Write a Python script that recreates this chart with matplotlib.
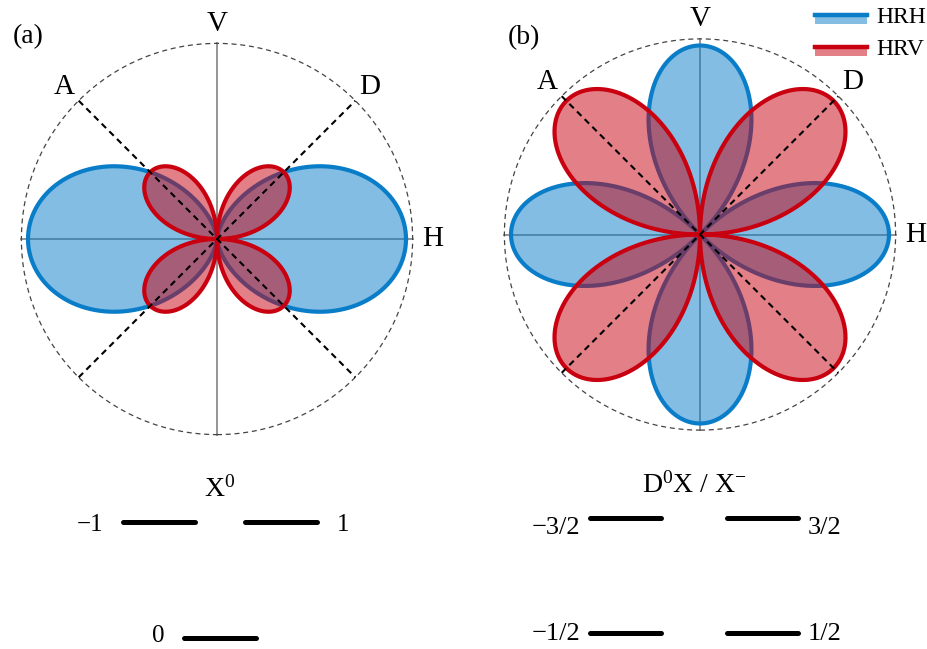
import numpy as np
import matplotlib
matplotlib.use("Agg")
import matplotlib.pyplot as plt
from matplotlib.patches import Circle, Rectangle

plt.rcParams['font.family'] = ['Liberation Serif', 'DejaVu Serif']
plt.rcParams['mathtext.fontset'] = 'custom'
plt.rcParams['mathtext.rm'] = 'Liberation Serif'
plt.rcParams['mathtext.it'] = 'Liberation Serif:italic'

# polarisation patterns: amplitude and angular order of each lobe set
# HRH ~ amp*cos^2(theta) for X0, amp*|cos(2 theta)| for D0X/X-
# HRV ~ amp*|sin(2 theta)|
hrh_amp = [1.0, 1.0]
hrv_amp = [0.5, 1.0]
panel_tags = ['(a)', '(b)']
axis_labels = ['H', 'V', 'D', 'A']
axis_angles_deg = [0, 90, 45, 135]

# energy level diagrams
level_titles = [r'X$^{0}$', r'D$^{0}$X / X$^{-}$']
levels_a = {'label': ['\u22121', '1', '0'], 'side': [-1, 1, 0], 'row': [1, 1, 0]}
levels_b = {'label': ['\u22123/2', '3/2', '\u22121/2', '1/2'],
            'side': [-1, 1, -1, 1], 'row': [1, 1, 0, 0]}

W, H = 928, 649
fig = plt.figure(figsize=(W / 100, H / 100), dpi=100)

BLUE = '#0a7dc9'
RED = '#c8000f'


def px_axes(cx, cy, sx, sy, xlim, ylim):
    left = cx + xlim[0] * sx
    right = cx + xlim[1] * sx
    bot = cy - ylim[0] * sy
    top = cy - ylim[1] * sy
    ax = fig.add_axes([left / W, (H - bot) / H, (right - left) / W, (bot - top) / H])
    ax.set_xlim(*xlim)
    ax.set_ylim(*ylim)
    ax.axis('off')
    return ax


theta = np.linspace(0, 2 * np.pi, 1441)
R = 1.035


def polar_panel(ax, r_h, r_v, tag, tag_xy):
    # axis cross and dashed frame
    ax.plot([-R, R], [0, 0], color='#8c8c8c', lw=1.3, zorder=1)
    ax.plot([0, 0], [-R, R], color='#8c8c8c', lw=1.3, zorder=1)
    ax.add_patch(Circle((0, 0), R, fill=False, ec='#444444', lw=0.9,
                        ls=(0, (4, 3)), zorder=1))
    # lobes
    xh, yh = r_h * np.cos(theta), r_h * np.sin(theta)
    ax.fill(xh, yh, color=BLUE, alpha=0.5, lw=0, zorder=2)
    ax.plot(xh, yh, color=BLUE, lw=3, zorder=3, solid_joinstyle='round')
    xv, yv = r_v * np.cos(theta), r_v * np.sin(theta)
    ax.fill(xv, yv, color=RED, alpha=0.5, lw=0, zorder=4)
    ax.plot(xv, yv, color=RED, lw=3, zorder=5, solid_joinstyle='round')
    # diagonal guides
    d = R / np.sqrt(2)
    ax.plot([-d, d], [-d, d], color='black', lw=1.5, ls=(0, (3, 2.2)), zorder=6)
    ax.plot([-d, d], [d, -d], color='black', lw=1.5, ls=(0, (3, 2.2)), zorder=6)
    # axis labels
    for lab, ang in zip(axis_labels, axis_angles_deg):
        a = np.deg2rad(ang)
        ax.text(1.14 * np.cos(a), 1.14 * np.sin(a), lab, fontsize=21,
                ha='center', va='center', clip_on=False, zorder=7)
    ax.text(tag_xy[0], tag_xy[1], tag, fontsize=20, ha='center', va='center',
            clip_on=False)


ax_a = px_axes(217, 239, 189, 189, (-1.15, 1.15), (-1.15, 1.15))
ax_a.set_aspect('equal')
polar_panel(ax_a, hrh_amp[0] * np.cos(theta) ** 2,
            hrv_amp[0] * np.abs(np.sin(2 * theta)), panel_tags[0], (-1.0, 1.07))

ax_b = px_axes(700, 234.5, 189, 189, (-1.15, 1.15), (-1.15, 1.15))
ax_b.set_aspect('equal')
polar_panel(ax_b, hrh_amp[1] * np.abs(np.cos(2 * theta)),
            hrv_amp[1] * np.abs(np.sin(2 * theta)), panel_tags[1], (-0.93, 1.04))

# legend swatches: light fill with a strong edge line on top
for i, (name, col) in enumerate([('HRH', BLUE), ('HRV', RED)]):
    y0 = 1.115 - i * 0.17
    ax_b.add_patch(Rectangle((0.608, y0), 0.276, 0.04, color=col, alpha=0.5,
                             lw=0, clip_on=False))
    ax_b.plot([0.608, 0.884], [y0 + 0.045, y0 + 0.045], color=col, lw=3.2,
              clip_on=False)
    ax_b.text(0.935, y0 + 0.032, name, fontsize=17, ha='left', va='center',
              clip_on=False)


def level_panel(ax, lv, title, half_len, gap, upper_drop, lower_dy, fsize):
    for lab, side, row in zip(lv['label'], lv['side'], lv['row']):
        ax.plot([side - half_len, side + half_len], [row, row], color='black',
                lw=3.6, solid_capstyle='round')
        if side > 0:
            x, ha, dx = side + half_len, 'left', gap
        else:
            x, ha, dx = side - half_len, 'right', -gap
        dy = -upper_drop if row == 1 else lower_dy
        ax.annotate(lab, (x, row + dy), xytext=(dx, 0), textcoords='offset points',
                    fontsize=fsize, ha=ha, va='center')
    ax.text(0, 1.28, title, fontsize=20, ha='center', va='center')


lv_a = px_axes(220, 638, 61, 116, (-2.0, 2.0), (-0.1, 1.5))
level_panel(lv_a, levels_a, level_titles[0], 0.59, 14, 0.03, 0.02, 18)

lv_b = px_axes(694, 633, 68.5, 115, (-2.3, 2.3), (-0.14, 1.5))
level_panel(lv_b, levels_b, level_titles[1], 0.52, 7, 0.09, -0.01, 19)

fig.savefig('out.png', dpi=100)
